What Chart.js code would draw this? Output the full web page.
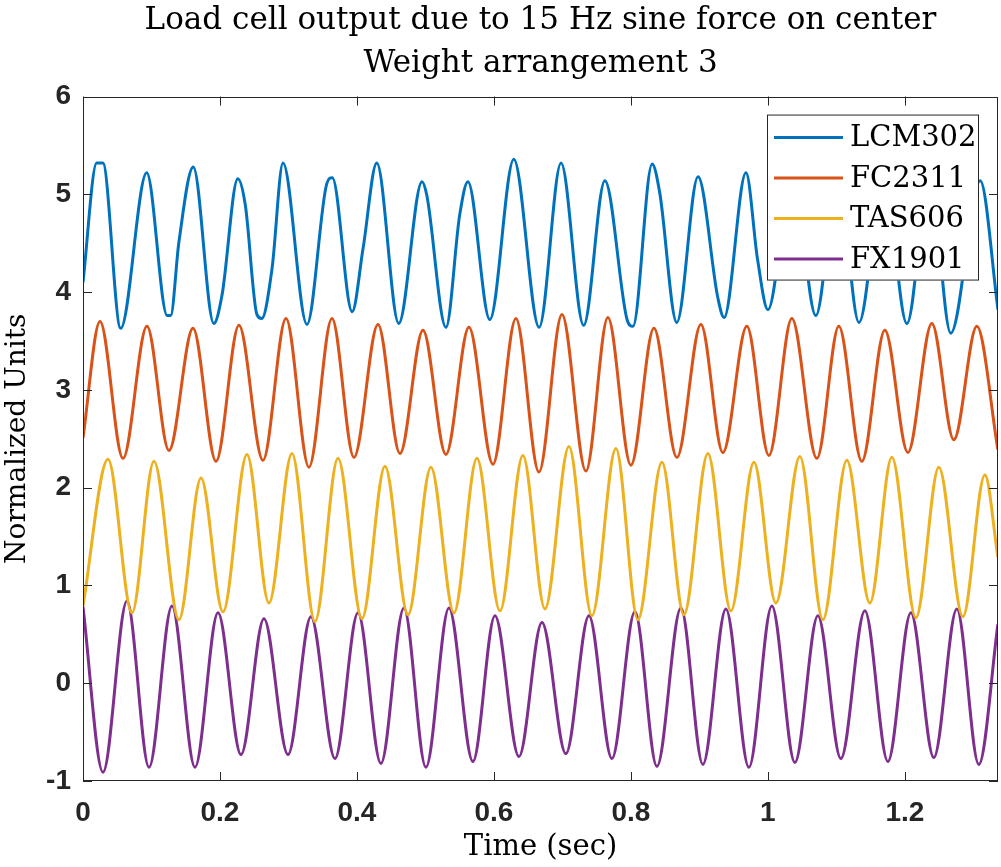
<!DOCTYPE html>
<html>
<head>
<meta charset="utf-8">
<title>Load cell output</title>
<script src="https://cdn.jsdelivr.net/npm/chart.js@4/dist/chart.umd.min.js"></script>
<style>
html, body { margin: 0; padding: 0; background: #fff; }
</style>
</head>
<body>
<canvas id="showchart" width="1001" height="867"></canvas>
<script>
// values (time in sec, normalized units)
var seriesNames = ["LCM302", "FC2311", "TAS606", "FX1901"];
var seriesColors = ["#0072BD", "#D95319", "#EDB120", "#7E2F8E"];

var lcmTime = [0, 0.020, 0.029, 0.055, 0.093, 0.123, 0.128, 0.140, 0.161, 0.191, 0.203, 0.226, 0.237, 0.254, 0.261, 0.276, 0.292, 0.327, 0.356, 0.364, 0.393, 0.409, 0.429, 0.461, 0.495, 0.502, 0.530, 0.550, 0.562, 0.594, 0.629, 0.666, 0.698, 0.731, 0.762, 0.794, 0.803, 0.831, 0.842, 0.867, 0.898, 0.927, 0.936, 0.968, 0.985, 1.000, 1.036, 1.070, 1.102, 1.133, 1.169, 1.203, 1.236, 1.267, 1.310, 1.336];
var lcmValues = [4.10, 5.32, 5.32, 3.63, 5.22, 3.76, 3.76, 4.51, 5.28, 3.68, 3.97, 5.16, 4.89, 3.77, 3.73, 4.24, 5.32, 3.67, 5.11, 5.17, 3.80, 4.45, 5.32, 3.68, 5.13, 4.99, 3.64, 4.79, 5.13, 3.72, 5.36, 3.64, 5.32, 3.66, 5.14, 3.73, 3.65, 5.31, 5.02, 3.69, 5.18, 3.94, 3.74, 5.22, 4.33, 3.82, 5.25, 3.76, 5.20, 3.69, 5.20, 3.68, 5.20, 3.58, 5.14, 3.82];

var fcTime = [0, 0.0248, 0.0584, 0.0934, 0.1255, 0.1606, 0.1942, 0.2277, 0.2628, 0.2964, 0.3299, 0.3635, 0.3956, 0.4307, 0.4628, 0.4964, 0.5299, 0.5635, 0.5985, 0.6321, 0.6657, 0.6993, 0.7343, 0.7664, 0.8000, 0.8336, 0.8672, 0.9022, 0.9343, 0.9693, 1.0015, 1.0350, 1.0715, 1.1036, 1.1372, 1.1708, 1.2044, 1.2394, 1.2715, 1.3051, 1.3358];
var fcValues = [2.51, 3.70, 2.30, 3.65, 2.38, 3.63, 2.27, 3.66, 2.28, 3.73, 2.21, 3.73, 2.31, 3.67, 2.35, 3.61, 2.34, 3.64, 2.24, 3.73, 2.16, 3.77, 2.17, 3.74, 2.23, 3.63, 2.31, 3.67, 2.36, 3.65, 2.33, 3.73, 2.30, 3.65, 2.27, 3.61, 2.36, 3.68, 2.49, 3.65, 2.39];

var tasTime = [0, 0.0365, 0.0715, 0.1036, 0.1401, 0.1723, 0.2044, 0.2394, 0.2715, 0.3051, 0.3387, 0.3723, 0.4073, 0.4409, 0.4745, 0.5080, 0.5416, 0.5752, 0.6088, 0.6423, 0.6745, 0.7095, 0.7431, 0.7781, 0.8102, 0.8453, 0.8774, 0.9124, 0.9460, 0.9796, 1.0117, 1.0467, 1.0803, 1.1153, 1.1489, 1.1810, 1.2161, 1.2496, 1.2847, 1.3168, 1.3358];
var tasValues = [0.79, 2.29, 0.72, 2.27, 0.65, 2.10, 0.73, 2.34, 0.82, 2.35, 0.63, 2.30, 0.66, 2.22, 0.70, 2.21, 0.72, 2.30, 0.74, 2.33, 0.76, 2.42, 0.69, 2.40, 0.65, 2.26, 0.70, 2.35, 0.74, 2.26, 0.82, 2.32, 0.65, 2.28, 0.82, 2.31, 0.67, 2.21, 0.68, 2.13, 1.29];

var fxTime = [0, 0.0292, 0.0642, 0.0964, 0.1299, 0.1635, 0.1971, 0.2307, 0.2642, 0.2993, 0.3328, 0.3679, 0.4015, 0.4350, 0.4686, 0.5007, 0.5343, 0.5693, 0.6015, 0.6365, 0.6701, 0.7051, 0.7387, 0.7723, 0.8058, 0.8380, 0.8730, 0.9051, 0.9387, 0.9723, 1.0058, 1.0394, 1.0730, 1.1066, 1.1416, 1.1752, 1.2088, 1.2423, 1.2759, 1.3080, 1.3358];
var fxValues = [0.78, -0.91, 0.84, -0.86, 0.79, -0.86, 0.72, -0.73, 0.66, -0.73, 0.68, -0.77, 0.72, -0.82, 0.77, -0.86, 0.77, -0.80, 0.69, -0.75, 0.62, -0.72, 0.69, -0.77, 0.73, -0.85, 0.77, -0.83, 0.76, -0.86, 0.79, -0.81, 0.69, -0.77, 0.74, -0.80, 0.72, -0.76, 0.76, -0.83, 0.60];

var xTicks = [0, 0.2, 0.4, 0.6, 0.8, 1, 1.2];
var yTicks = [-1, 0, 1, 2, 3, 4, 5, 6];

var serifFont = "'DejaVu Serif', serif";
var axisColor = "#262626";

function toPoints(times, values) {
	var pts = [];
	for (var i = 0; i < times.length; i++) {
		pts.push({x: times[i], y: values[i]});
	}
	return pts;
}

var allTimes = [lcmTime, fcTime, tasTime, fxTime];
var allValues = [lcmValues, fcValues, tasValues, fxValues];
var datasets = [];
for (var s = 0; s < seriesNames.length; s++) {
	datasets.push({
		label: seriesNames[s],
		data: toPoints(allTimes[s], allValues[s]),
		borderColor: seriesColors[s],
		backgroundColor: seriesColors[s],
		borderWidth: 3,
		pointRadius: 0,
		fill: false,
		cubicInterpolationMode: 'monotone'
	});
}

// title centred over the axes, not the whole canvas
var centerTitle = {
	id: 'centerTitle',
	afterLayout: function(chart) {
		var tb = chart.titleBlock;
		if (tb) {
			tb.left = chart.chartArea.left;
			tb.right = chart.chartArea.right;
			tb.width = tb.right - tb.left;
		}
	}
};

// matlab-like legend box in the upper right of the axes
var legendBox = {
	id: 'legendBox',
	afterDatasetsDraw: function(chart) {
		var ctx = chart.ctx, a = chart.chartArea;
		var w = 212, h = 166;
		var x0 = a.right - 19 - w, y0 = a.top + 18;
		ctx.save();
		ctx.fillStyle = '#fff';
		ctx.fillRect(x0, y0, w, h);
		ctx.strokeStyle = axisColor;
		ctx.lineWidth = 1;
		ctx.strokeRect(x0 + 0.5, y0 + 0.5, w - 1, h - 1);
		ctx.font = "29px " + serifFont;
		ctx.textBaseline = 'middle';
		ctx.textAlign = 'left';
		chart.data.datasets.forEach(function(ds, i) {
			var cy = y0 + 23 + i * 40.5;
			ctx.strokeStyle = ds.borderColor;
			ctx.lineWidth = 3;
			ctx.beginPath();
			ctx.moveTo(x0 + 7, cy);
			ctx.lineTo(x0 + 76, cy);
			ctx.stroke();
			ctx.fillStyle = '#000';
			ctx.fillText(ds.label, x0 + 83, cy + 1);
		});
		ctx.restore();
	}
};

// axes box with inward ticks on all four sides
var axesBox = {
	id: 'axesBox',
	afterDraw: function(chart) {
		var ctx = chart.ctx, a = chart.chartArea;
		var xs = chart.scales.x, ys = chart.scales.y;
		var len = 9;
		ctx.save();
		ctx.strokeStyle = axisColor;
		ctx.lineWidth = 1;
		ctx.beginPath();
		xs.ticks.forEach(function(t) {
			var px = Math.round(xs.getPixelForValue(t.value)) + 0.5;
			ctx.moveTo(px, a.bottom); ctx.lineTo(px, a.bottom - len);
			ctx.moveTo(px, a.top); ctx.lineTo(px, a.top + len);
		});
		ys.ticks.forEach(function(t) {
			var py = Math.round(ys.getPixelForValue(t.value)) + 0.5;
			ctx.moveTo(a.left, py); ctx.lineTo(a.left + len, py);
			ctx.moveTo(a.right, py); ctx.lineTo(a.right - len, py);
		});
		ctx.stroke();
		ctx.strokeRect(Math.round(a.left) + 0.5, Math.round(a.top) + 0.5, Math.round(a.width) - 1, Math.round(a.height) - 1);
		ctx.restore();
	}
};

var tickFont = {family: "'Liberation Sans', Arial, sans-serif", size: 28, weight: 'bold'};

var ctx = document.getElementById('showchart');
var lineChart = new Chart(ctx, {
	type: 'line',
	data: {datasets: datasets},
	plugins: [centerTitle, legendBox, axesBox],
	options: {
		responsive: false,
		animation: false,
		devicePixelRatio: 1,
		layout: {padding: {left: 0, right: 3, top: 0, bottom: 0}},
		plugins: {
			legend: {display: false},
			tooltip: {enabled: false},
			title: {
				display: true,
				text: ["Load cell output due to 15 Hz sine force on center", "Weight arrangement 3"],
				color: '#000',
				font: {family: serifFont, size: 31, weight: 'normal', lineHeight: 1.38},
				padding: {top: 0, bottom: 11}
			}
		},
		scales: {
			x: {
				type: 'linear',
				min: 0,
				max: 1.336,
				afterFit: function(scale) { scale.height = 86; },
				afterBuildTicks: function(scale) {
					scale.ticks = xTicks.map(function(v) { return {value: v}; });
				},
				grid: {display: false, drawTicks: false},
				border: {display: false},
				ticks: {
					padding: 15,
					font: tickFont,
					color: axisColor,
					maxRotation: 0,
					autoSkip: false,
					callback: function(v) { return String(v); }
				},
				title: {
					display: true,
					text: 'Time (sec)',
					color: '#000',
					font: {family: serifFont, size: 29, weight: 'normal'},
					padding: {top: 0, bottom: 2}
				}
			},
			y: {
				type: 'linear',
				min: -1,
				max: 6,
				afterFit: function(scale) { scale.width = 83; },
				afterBuildTicks: function(scale) {
					scale.ticks = yTicks.map(function(v) { return {value: v}; });
				},
				grid: {display: false, drawTicks: false},
				border: {display: false},
				ticks: {
					padding: 12,
					font: tickFont,
					color: axisColor,
					autoSkip: false,
					callback: function(v) { return String(v); }
				},
				title: {
					display: true,
					text: 'Normalized Units',
					color: '#000',
					font: {family: serifFont, size: 28, weight: 'normal'},
					padding: {top: 1, bottom: 0}
				}
			}
		}
	}
});
</script>
</body>
</html>
